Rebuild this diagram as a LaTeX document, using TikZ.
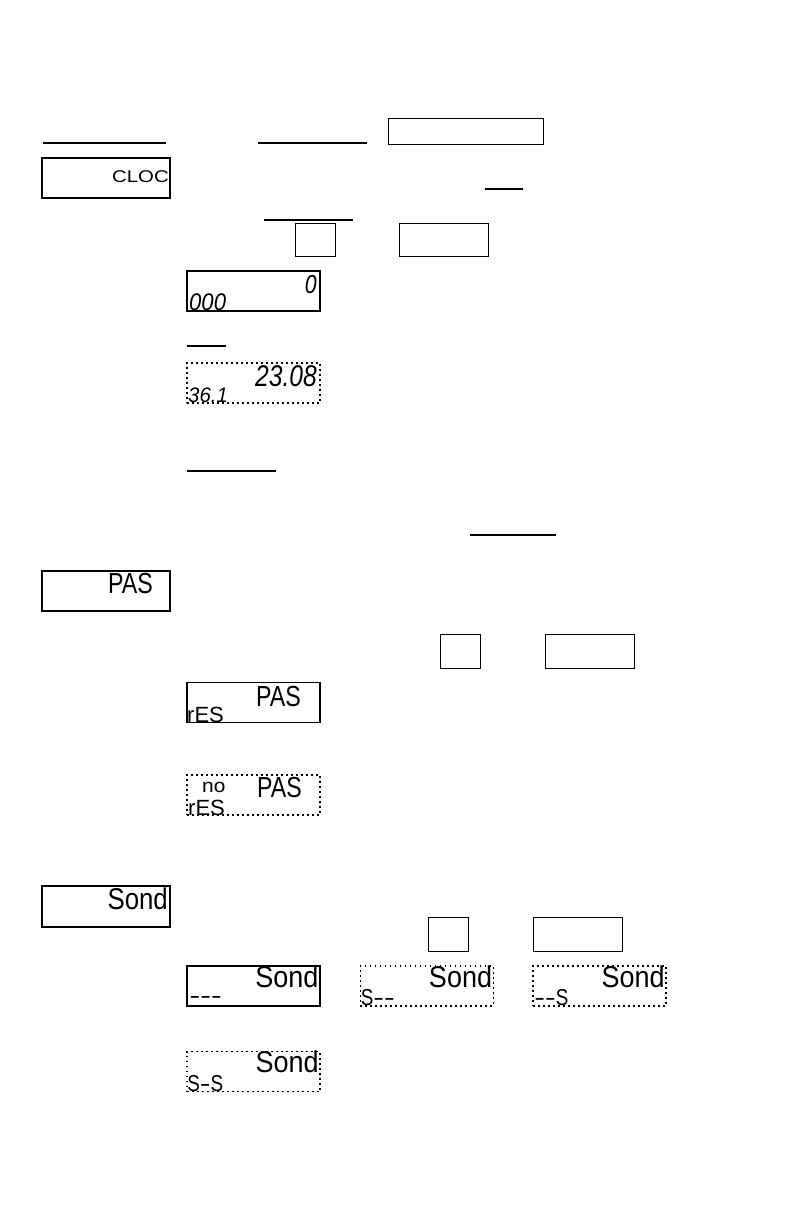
\documentclass[tikz,border=0pt]{standalone}
\usepackage{fontspec}
\setmainfont{Liberation Sans}
\newfontfamily\segfont{Liberation Sans}
\usetikzlibrary{positioning}
\newcommand{\lcdtxt}[3][0.82]{\scalebox{#1}[1]{\segfont\fontsize{#2}{#2}\selectfont #3}}
\newcommand{\dsh}{\scalebox{1.7}[1]{-}}

\begin{document}
\begin{tikzpicture}[x=1pt,y=1pt,
  disp/.style={draw,line width=1.1pt,minimum width=133pt,minimum height=40pt,inner sep=0pt},
  dispdot/.style={disp,line width=1.7pt,dash pattern=on 1.8pt off 3.2pt},
  menu/.style={disp,minimum width=128pt},
  key/.style={draw,line width=1pt,minimum width=40pt,minimum height=33.5pt,inner sep=0pt},
  keywide/.style={key,minimum width=89pt},
  seg/.style={inner sep=0pt},
  uline/.style={line width=2pt}
]
  \useasboundingbox (0,0) rectangle (792,-1224);

  % Clock menu
  \draw[uline] (43,-143) -- (166,-143);
  \draw[uline] (258,-143) -- (367,-143);
  \node[key,minimum width=155pt,minimum height=26pt] (keytop) at (465.5,-131) {};
  \node[menu] (clock) at (106,-178) {};
  \node[seg,anchor=base east] (clocktxt) at (169,-182) {\lcdtxt[1.2]{17}{CLOC}};
  \draw[uline] (485,-189) -- (523,-189);
  \draw[uline] (264,-220) -- (353,-220);
  \node[key] (keya) at (315,-240) {};
  \node[keywide,right=63pt of keya] (keyb) {};

  \node[disp] (zero) at (253.5,-291) {};
  \node[seg,anchor=base east] (zerotop) at (317,-293) {\lcdtxt{26}{\itshape 0}};
  \node[seg,anchor=base west] (zerobot) at (189,-310) {\lcdtxt[0.92]{24}{\itshape 000}};

  \draw[uline] (187,-346) -- (226,-346);
  \node[dispdot] (time) at (253.5,-383) {};
  \node[seg,anchor=base east] (timetop) at (317,-386) {\lcdtxt{30}{\itshape 23.08}};
  \node[seg,anchor=base west] (timebot) at (188,-402) {\lcdtxt[0.97]{21}{\itshape 36.1}};

  \draw[uline] (187,-471) -- (276,-471);
  \draw[uline] (470,-535) -- (556,-535);

  % Password menu
  \node[menu] (pas) at (106,-591) {};
  \node[seg,anchor=base east] (pastxt) at (153,-593) {\lcdtxt[0.8]{29}{PAS}};
  \node[key] (keyc) at (460.5,-651.5) {};
  \node[keywide,right=64pt of keyc] (keyd) {};

  \node[disp] (res) at (253.5,-702.5) {};
  \node[seg,anchor=base east] (restop) at (301,-706) {\lcdtxt[0.8]{29}{PAS}};
  \node[seg,anchor=base west] (resbot) at (187,-722) {\lcdtxt[1.0]{22}{rES}};

  \node[dispdot] (nores) at (253.5,-795) {};
  \node[seg,anchor=base west] (noresno) at (202,-792) {\lcdtxt[1.1]{19}{no}};
  \node[seg,anchor=base east] (norestop) at (302,-797) {\lcdtxt[0.8]{29}{PAS}};
  \node[seg,anchor=base west] (noresbot) at (188,-815) {\lcdtxt[1.0]{22}{rES}};

  % Sound menu
  \node[menu,minimum height=41pt] (sond) at (106,-906.5) {};
  \node[seg,anchor=base east] (sondtxt) at (168,-909) {\lcdtxt[0.86]{30}{Sond}};
  \node[key] (keye) at (448.5,-934.5) {};
  \node[keywide,right=64pt of keye] (keyf) {};

  \node[disp] (snda) at (253.5,-986) {};
  \node[dispdot,right=39pt of snda] (sndb) {};
  \node[dispdot,right=38pt of sndb] (sndc) {};
  \node[dispdot] (sndd) at (253.5,-1071.5) {};
  \foreach \d in {snda,sndb,sndc,sndd}
    \node[seg,anchor=base east] (\d top) at ([xshift=-2pt,yshift=-22pt]\d.north east) {\lcdtxt[0.9]{30}{Sond}};
  \node[seg,anchor=base west] (sndabot) at ([xshift=3pt,yshift=3pt]snda.south west) {\lcdtxt{23}{\dsh\dsh\dsh}};
  \node[seg,anchor=base west] (sndbbot) at ([xshift=1pt,yshift=1pt]sndb.south west) {\lcdtxt{23}{S\dsh\dsh}};
  \node[seg,anchor=base west] (sndcbot) at ([xshift=2pt,yshift=1pt]sndc.south west) {\lcdtxt{23}{\dsh\dsh S}};
  \node[seg,anchor=base west] (snddbot) at ([xshift=1pt,yshift=1pt]sndd.south west) {\lcdtxt{23}{S\dsh S}};
\end{tikzpicture}
\end{document}
